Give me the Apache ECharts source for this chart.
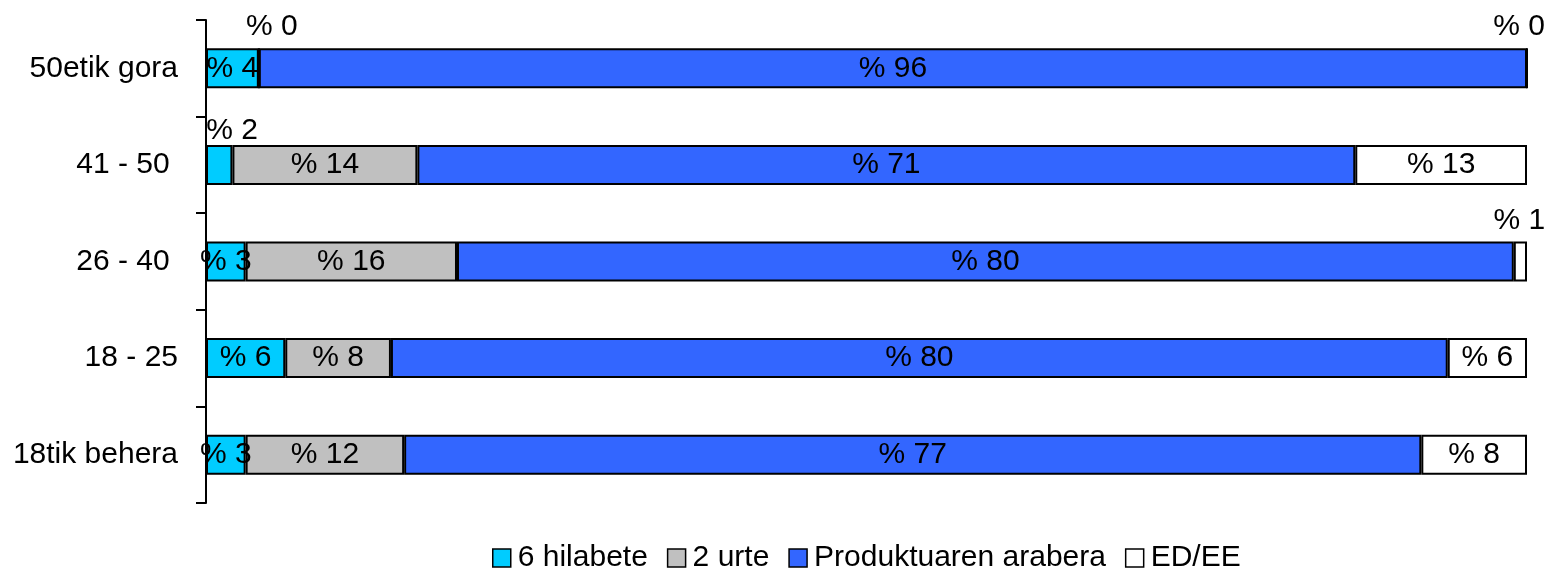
<!DOCTYPE html>
<html>
<head>
<meta charset="utf-8">
<script src="https://cdn.jsdelivr.net/npm/echarts@6/dist/echarts.min.js"></script>
<style>html,body{margin:0;padding:0;background:#fff}#c{width:1546px;height:569px}</style>
</head>
<body>
<div id="c"></div>
<script>
const categories = ['18tik behera', '18 - 25', '26 - 40 ', '41 - 50 ', '50etik gora'];
const seriesNames = ['6 hilabete', '2 urte', 'Produktuaren arabera', 'ED/EE'];
const hilabete6 = [3, 6, 3, 2, 4];
const urte2 = [12, 8, 16, 14, 0];
const produktu = [77, 80, 80, 71, 96];
const edee = [8, 6, 1, 13, 0];
const colors = ['#00CCFF', '#C0C0C0', '#3366FF', '#FFFFFF'];

const values = [hilabete6, urte2, produktu, edee];
const FONT = '"Liberation Sans", Arial, sans-serif';
// labels of thin segments sit above the bar (as in the reference)
const labelOffsets = { '0-3': [13, 9], '1-4': [13, 2], '3-4': [-8, 2], '3-2': [-1, 2] };

const chart = echarts.init(document.getElementById('c'));
const series = values.map((arr, si) => ({
  name: seriesNames[si],
  type: 'bar',
  stack: 'total',
  barWidth: 40,
  itemStyle: { color: colors[si], borderColor: '#000', borderWidth: 2 },
  label: {
    show: true, position: 'inside', color: '#000',
    fontFamily: FONT, fontSize: 30,
    formatter: p => '% ' + p.value
  },
  data: arr.map((v, ci) => {
    const key = si + '-' + ci;
    if (labelOffsets[key]) {
      return { value: v, label: { position: 'top', distance: 8, offset: labelOffsets[key] } };
    }
    return v;
  })
}));

chart.setOption({
  animation: false,
  grid: { left: 206, right: 19, top: 20, bottom: 66 },
  xAxis: { type: 'value', min: 0, max: 100, show: false },
  yAxis: {
    type: 'category', data: categories,
    axisLine: { show: true, lineStyle: { color: '#000', width: 2 } },
    axisTick: { show: true, length: 10, lineStyle: { color: '#000', width: 2 } },
    axisLabel: { color: '#000', fontSize: 30, fontFamily: FONT, margin: 28 },
    splitLine: { show: false }
  },
  legend: {
    top: 543, left: 492, icon: 'rect', itemWidth: 18, itemHeight: 18, itemGap: 19,
    padding: 0,
    data: seriesNames.map((n, i) => ({ name: n, itemStyle: { color: colors[i], borderColor: '#000', borderWidth: 1.5 } })),
    textStyle: { color: '#000', fontSize: 30, fontFamily: FONT, padding: [0, 0, 0, 2] }
  },
  series
});
</script>
</body>
</html>
